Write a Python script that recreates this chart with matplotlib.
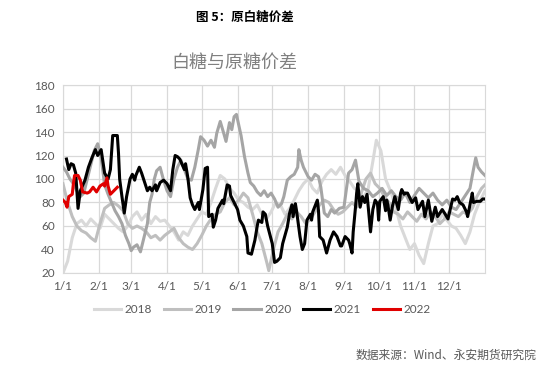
import matplotlib
matplotlib.use("Agg")
import matplotlib.pyplot as plt

plt.rcParams['font.family'] = ['Lato', 'Noto Sans CJK SC', 'DejaVu Sans']

# month ticks (day of year)
month_days = [0, 31, 59, 90, 120, 151, 181, 212, 243, 273, 304, 334]
month_labels = ['1/1', '2/1', '3/1', '4/1', '5/1', '6/1', '7/1', '8/1', '9/1', '10/1', '11/1', '12/1']

# (day of year, spread)
pts_2018 = [(0, 20), (4, 30), (8, 50), (12, 62), (16, 65), (20, 60), (24, 66), (28, 62), (32, 58), (36, 70),
            (40, 66), (44, 62), (48, 58), (52, 55), (56, 60), (60, 68), (64, 72), (68, 65), (72, 70), (76, 62),
            (80, 68), (84, 64), (88, 65), (92, 60), (96, 55), (100, 48), (104, 55), (108, 52), (112, 60),
            (116, 66), (120, 72), (124, 70), (128, 80), (132, 92), (136, 103), (140, 100), (144, 92), (148, 88),
            (152, 82), (156, 80), (160, 76), (164, 74), (168, 78), (172, 70), (176, 66), (180, 72), (184, 80),
            (188, 78), (192, 70), (196, 75), (200, 82), (204, 90), (208, 96), (212, 100), (216, 92), (220, 88),
            (224, 98), (228, 104), (232, 108), (236, 104), (240, 110), (244, 103), (248, 98), (252, 92),
            (256, 90), (260, 84), (264, 92), (268, 115), (271, 133), (275, 124), (279, 100), (284, 88),
            (288, 75), (292, 60), (296, 50), (300, 40), (304, 45), (308, 35), (312, 28), (316, 45), (320, 60),
            (324, 62), (328, 70), (332, 65), (336, 60), (340, 58), (344, 52), (348, 45), (352, 55), (356, 70),
            (360, 80), (365, 90)]

pts_2019 = [(0, 96), (4, 80), (8, 68), (12, 60), (16, 56), (20, 54), (24, 50), (28, 47), (32, 62), (36, 75),
            (40, 78), (44, 80), (48, 77), (52, 73), (56, 62), (60, 58), (64, 60), (68, 58), (72, 55), (76, 50),
            (80, 52), (84, 48), (88, 52), (92, 55), (96, 58), (100, 50), (104, 45), (108, 42), (112, 40),
            (116, 45), (120, 52), (124, 60), (128, 66), (132, 70), (136, 72), (140, 80), (144, 84), (148, 78),
            (152, 82), (156, 88), (160, 84), (164, 70), (168, 55), (172, 45), (176, 30), (178, 22), (182, 40),
            (186, 55), (190, 62), (194, 70), (198, 66), (202, 72), (206, 68), (210, 62), (214, 66), (218, 72),
            (222, 78), (226, 82), (230, 80), (234, 74), (238, 70), (242, 72), (246, 76), (250, 80), (254, 76),
            (258, 88), (262, 100), (266, 105), (270, 96), (274, 92), (278, 85), (282, 80), (286, 72), (290, 70),
            (294, 66), (298, 72), (302, 68), (306, 64), (310, 70), (314, 66), (318, 72), (322, 68), (326, 62),
            (330, 66), (334, 72), (338, 70), (342, 68), (346, 72), (350, 70), (354, 75), (358, 85), (362, 92),
            (365, 95)]

pts_2020 = [(0, 110), (3, 106), (6, 100), (9, 96), (12, 90), (15, 85), (18, 88), (21, 100), (24, 112),
            (27, 124), (30, 130), (33, 118), (36, 95), (39, 87), (42, 80), (45, 73), (48, 68), (51, 62),
            (54, 52), (57, 45), (59, 39), (61, 42), (64, 44), (67, 38), (70, 50), (73, 62), (75, 80), (77, 87),
            (79, 100), (81, 107), (84, 110), (87, 99), (90, 90), (93, 85), (96, 100), (99, 110), (102, 116),
            (105, 108), (108, 100), (111, 99), (114, 110), (117, 125), (119, 136), (122, 133), (125, 128),
            (128, 133), (131, 127), (133, 139), (136, 149), (139, 139), (141, 132), (144, 148), (146, 142),
            (148, 153), (150, 155), (152, 146), (154, 137), (157, 119), (160, 105), (162, 97), (165, 94),
            (168, 89), (171, 86), (174, 90), (177, 85), (180, 88), (183, 83), (186, 76), (189, 79), (191, 85),
            (194, 99), (197, 102), (200, 104), (203, 110), (204, 125), (206, 116), (208, 110), (212, 102),
            (215, 99), (218, 104), (221, 102), (223, 93), (226, 71), (229, 68), (232, 74), (235, 71), (239, 75),
            (243, 76), (247, 105), (250, 108), (253, 116), (256, 98), (260, 92), (264, 90), (268, 85), (272, 88),
            (276, 92), (280, 86), (284, 90), (288, 85), (292, 82), (296, 88), (300, 80), (304, 86), (308, 92),
            (312, 88), (316, 84), (320, 88), (324, 82), (328, 78), (332, 82), (336, 76), (340, 74), (344, 80),
            (348, 86), (352, 92), (355, 108), (357, 118), (359, 110), (362, 106), (365, 103)]

pts_2021 = [(3, 117), (5, 108), (7, 113), (9, 112), (11, 105), (13, 75), (15, 90), (19, 99), (22, 110),
            (25, 118), (28, 125), (30, 120), (33, 125), (36, 105), (39, 100), (41, 108), (43, 137), (47, 137),
            (48, 122), (49, 100), (51, 85), (53, 71), (55, 85), (56, 90), (58, 100), (60, 104), (62, 99),
            (63, 103), (66, 110), (68, 105), (70, 99), (73, 90), (75, 93), (77, 90), (80, 95), (81, 90),
            (84, 97), (87, 99), (90, 96), (93, 90), (95, 108), (97, 120), (99, 119), (101, 117), (105, 108),
            (106, 113), (108, 101), (110, 84), (112, 78), (114, 74), (117, 80), (118, 74), (121, 91), (123, 109),
            (125, 110), (126, 68), (129, 70), (130, 59), (132, 65), (134, 75), (138, 82), (139, 79), (142, 95),
            (144, 94), (145, 86), (147, 82), (151, 74), (153, 65), (156, 60), (159, 51), (160, 37), (163, 36),
            (164, 40), (166, 48), (168, 60), (169, 65), (172, 63), (173, 72), (175, 70), (177, 60), (181, 45),
            (183, 29), (185, 30), (188, 33), (190, 45), (194, 59), (196, 71), (198, 78), (199, 68), (201, 79),
            (202, 73), (205, 51), (207, 40), (209, 45), (211, 65), (214, 70), (215, 65), (216, 72), (220, 82),
            (221, 73), (222, 51), (225, 48), (228, 37), (231, 48), (234, 55), (237, 51), (240, 43), (241, 43),
            (244, 51), (247, 48), (248, 45), (250, 37), (251, 55), (253, 76), (254, 88), (255, 96), (257, 76),
            (259, 85), (261, 80), (263, 87), (266, 55), (268, 74), (270, 82), (272, 79), (273, 65), (274, 81),
            (277, 85), (279, 73), (280, 82), (281, 78), (283, 65), (285, 77), (287, 85), (290, 74), (292, 88),
            (293, 91), (295, 87), (296, 88), (298, 88), (302, 80), (305, 84), (307, 74), (311, 81), (313, 68),
            (316, 82), (319, 64), (322, 76), (324, 68), (328, 74), (330, 71), (333, 66), (337, 83), (339, 82),
            (341, 85), (343, 80), (346, 78), (349, 72), (350, 68), (354, 88), (355, 80), (358, 81), (361, 81),
            (363, 83), (365, 83)]

pts_2022 = [(0, 82), (2, 80), (3.5, 76), (5, 85), (8, 87), (9, 96), (10, 103), (13, 103), (15, 99), (17, 89),
            (21, 88), (23, 89), (26, 93), (29, 89), (32, 94), (35, 96), (36, 94), (38, 101), (39, 94), (41, 87),
            (43, 89), (47, 93)]

series = [
    ('2018', pts_2018, '#d9d9d9'),
    ('2019', pts_2019, '#bfbfbf'),
    ('2020', pts_2020, '#a5a5a5'),
    ('2021', pts_2021, '#000000'),
    ('2022', pts_2022, '#e00000'),
]

fig = plt.figure(figsize=(5.59, 3.77), dpi=100)
ax = fig.add_axes([0.1127, 0.2759, 0.7549, 0.4986])

for i, (name, pts, color) in enumerate(series):
    d, v = zip(*pts)
    ax.plot(d, v, color=color, lw=2.2, label=name, zorder=2 + i)

ax.set_xlim(0, 365)
ax.set_ylim(20, 180)
ax.set_yticks(range(20, 181, 20))
ax.set_xticks(month_days)
ax.set_xticklabels(month_labels)
ax.grid(True, color='#d9d9d9', lw=0.9)
ax.set_axisbelow(True)
for s in ax.spines.values():
    s.set_color('#d9d9d9')
ax.tick_params(length=0, labelsize=8.5, colors='#595959', pad=6)

fig.text(0.438, 0.955, '图 5：原白糖价差', fontsize=9, fontweight='bold',
         family=['Noto Sans CJK SC', 'DejaVu Sans'], ha='center', va='center')
fig.text(0.42, 0.833, '白糖与原糖价差', fontsize=13, color='#808080',
         family=['Noto Sans CJK SC', 'DejaVu Sans'], ha='center', va='center')

fig.legend(loc='center', bbox_to_anchor=(0.469, 0.18), ncol=5, frameon=False,
           fontsize=8.5, labelcolor='#595959', handlelength=2.3, columnspacing=1.0,
           handletextpad=0.3)

fig.text(0.96, 0.058, '数据来源：Wind、永安期货研究院', fontsize=8.5, color='#595959',
         family=['Noto Sans CJK SC', 'DejaVu Sans'], ha='right', va='center')

fig.savefig('out.png', dpi=100)
